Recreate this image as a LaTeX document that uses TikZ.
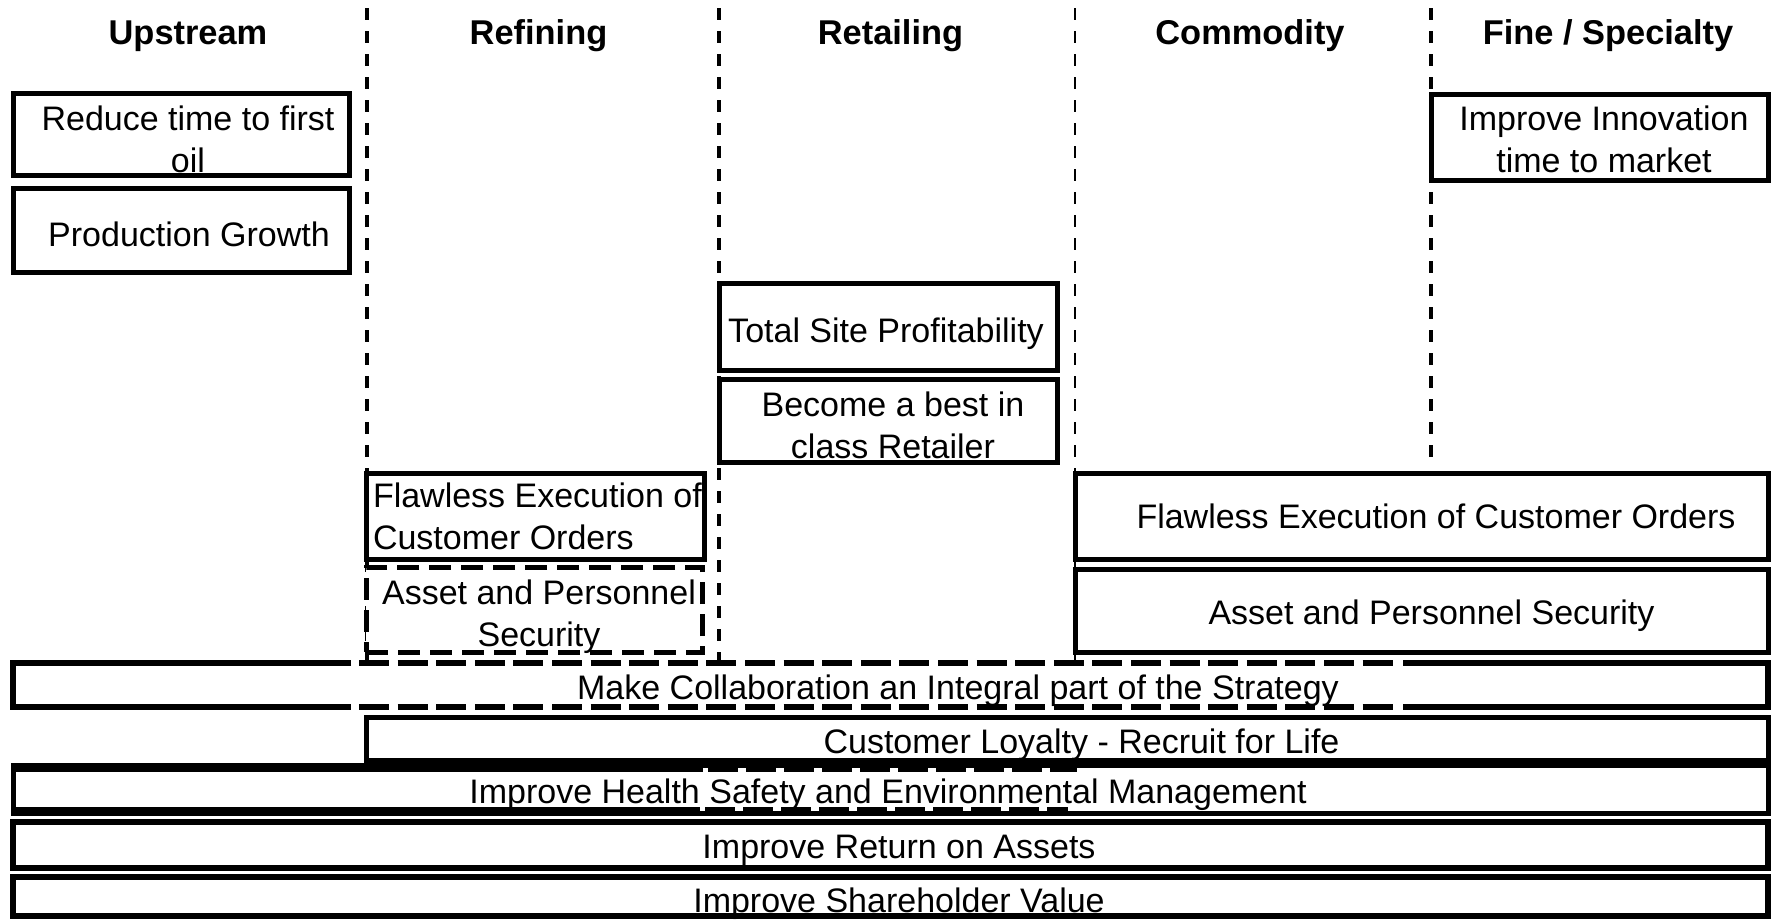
\documentclass[tikz,border=0pt]{standalone}
\usepackage{fontspec}
\setmainfont{Liberation Sans}
\newcommand\twoline[2]{\begin{tabular}[t]{@{}c@{}}#1\\#2\end{tabular}}
\newcommand\twolineL[2]{\begin{tabular}[t]{@{}l@{}}#1\\#2\end{tabular}}
\begin{document}
\begin{tikzpicture}[x=0.5pt,y=-0.5pt,
  sep/.style={line width=2pt, dash pattern=on 6pt off 5.5pt},
  septhin/.style={line width=1.1pt, dash pattern=on 6pt off 5.5pt},
  goal/.style={rectangle, draw, line width=2.5pt, fill=white, inner sep=0pt, outer sep=0pt},
  goaldash/.style={goal, dash pattern=on 11pt off 5pt},
  bar/.style={goal, line width=3pt},
  plain/.style={rectangle, fill=white, inner sep=0pt, outer sep=0pt},
  cut/.style={line width=3pt, dash pattern=on 15pt off 4.3pt},
  lbl/.style={font=\fontsize{17pt}{21pt}\selectfont, inner sep=0pt, outer sep=0pt, anchor=base},
  head/.style={font=\fontsize{17.2pt}{21pt}\selectfont\bfseries, inner sep=0pt, anchor=base},
]
\useasboundingbox (0,0) rectangle (1773,921);

% column separators
\draw[sep] (367,8) -- (367,660);
\draw[sep] (719,8) -- (719,660);
\draw[septhin] (1075,8) -- (1075,660);
\draw[sep] (1431,8) -- (1431,458);

% column headings
\node[head] (hUp)   at (188,44)    {Upstream};
\node[head] (hRef)  at (538.5,44)  {Refining};
\node[head] (hRet)  at (890.5,44)  {Retailing};
\node[head] (hCom)  at (1250,44)   {Commodity};
\node[head] (hFine) at (1608,44)   {Fine / Specialty};

% column goals
\node[goal, minimum width=168pt,   minimum height=41pt]   (reduce) at (181,134)     {};
\node[goal, minimum width=168pt,   minimum height=42pt]   (prod)   at (181,230)     {};
\node[goal, minimum width=168.5pt, minimum height=43pt]   (innov)  at (1599.5,137)  {};
\node[goal, minimum width=169pt,   minimum height=43.5pt] (total)  at (888,326.5)   {};
\node[goal, minimum width=169pt,   minimum height=41.5pt] (become) at (888,420.5)   {};
\node[goal, minimum width=169pt,   minimum height=43pt]   (rflaw)  at (535,516)     {};
\node[goaldash, minimum width=168pt, minimum height=42.5pt] (rasset) at (534,609.5) {};
\node[goal, minimum width=346.5pt, minimum height=43pt]   (cflaw)  at (1421.5,516)  {};
\node[goal, minimum width=346.5pt, minimum height=41.5pt] (casset) at (1421.5,610.5) {};

% company-wide goals
\node[plain, minimum width=877.5pt, minimum height=22pt] (collab) at (890.5,685) {};
\draw[line width=3pt] (351,663) -- (13,663) -- (13,707) -- (351,707);
\draw[line width=3pt] (1403,663) -- (1768,663) -- (1768,707) -- (1403,707);
\draw[cut] (359,663) -- (1393,663);
\draw[cut] (359,707) -- (1393,707);

\node[goal, minimum width=701pt,   minimum height=21.5pt] (loyal)  at (1067,738.5) {};
\node[goal, minimum width=877.5pt, minimum height=24pt]   (health) at (890.5,789)  {};
\draw[line width=2pt] (13,769.5) -- (703,769.5) (13,808.5) -- (700,808.5);
\draw[line width=2pt, dash pattern=on 15pt off 4pt] (708,769.5) -- (1077,769.5) (705,808.5) -- (1068,808.5);
\node[bar,  minimum width=877.5pt, minimum height=23pt]   (roa)    at (890.5,845)  {};
\node[bar,  minimum width=877.5pt, minimum height=19.5pt] (share)  at (890.5,896.5) {};

% labels
\node[lbl] (tReduce) at (188,130)  {\twoline{Reduce time to first}{oil}};
\node[lbl] (tProd)   at (189,246)  {Production Growth};
\node[lbl] (tInnov)  at (1604,130) {\twoline{Improve Innovation}{time to market}};
\node[lbl] (tTotal)  at (886,342)  {Total Site Profitability};
\node[lbl] (tBecome) at (893,416)  {\twoline{Become a best in}{class Retailer}};
\node[lbl, anchor=base west] (tRflaw) at (373,507) {\twolineL{Flawless Execution of}{Customer Orders}};
\node[lbl] (tRasset) at (539,604)  {\twoline{Asset and Personnel}{Security}};
\node[lbl] (tCflaw)  at (1436,528) {Flawless Execution of Customer Orders};
\node[lbl] (tCasset) at (1431.5,624) {Asset and Personnel Security};
\node[lbl] (tCollab) at (958,699)  {Make Collaboration an Integral part of the Strategy};
\node[lbl] (tLoyal)  at (1081.5,753) {Customer Loyalty - Recruit for Life};
\node[lbl] (tHealth) at (888,803)  {Improve Health Safety and Environmental Management};
\node[lbl] (tRoa)    at (899,858)  {Improve Return on Assets};
\node[lbl] (tShare)  at (899,912)  {Improve Shareholder Value};
\end{tikzpicture}
\end{document}
